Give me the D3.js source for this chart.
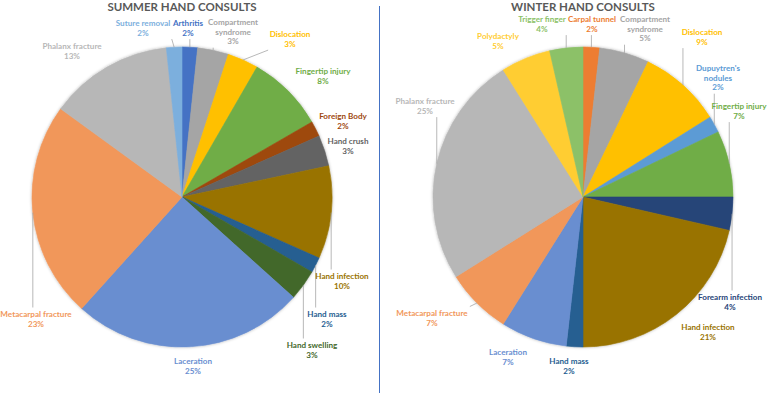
<!DOCTYPE html>
<html lang="en">
<head>
    <meta charset="UTF-8">
    <title>Hand Consults</title>
    <script src="https://d3js.org/d3.v7.min.js"></script>
    <style>
        body {
            margin: 0;
            background: #fff;
            font-family: 'Lato', sans-serif;
            overflow: hidden;
        }
    </style>
</head>
<body>
    <script>
        // counts per category (percent labels are computed from these)
        const summerCategories = ["Arthritis", "Compartment syndrome", "Dislocation", "Fingertip injury", "Foreign Body",
            "Hand crush", "Hand infection", "Hand mass", "Hand swelling", "Laceration", "Metacarpal fracture",
            "Phalanx fracture", "Suture removal"];
        const summerCounts = [1, 2, 2, 5, 1, 2, 6, 1, 2, 15, 14, 8, 1];

        const winterCategories = ["Carpal tunnel", "Compartment syndrome", "Dislocation", "Dupuytren's nodules",
            "Fingertip injury", "Forearm infection", "Hand infection", "Hand mass", "Laceration",
            "Metacarpal fracture", "Phalanx fracture", "Polydactyly", "Trigger finger"];
        const winterCounts = [1, 3, 5, 1, 4, 2, 12, 1, 4, 4, 14, 3, 2];

        const titles = ["SUMMER HAND CONSULTS", "WINTER HAND CONSULTS"];

        // Excel-like palette by category
        const colorOf = {
            "Arthritis": "#4472C4",
            "Carpal tunnel": "#ED7D31",
            "Compartment syndrome": "#A5A5A5",
            "Dislocation": "#FFC000",
            "Dupuytren's nodules": "#5B9BD5",
            "Fingertip injury": "#70AD47",
            "Forearm infection": "#264478",
            "Foreign Body": "#9E480E",
            "Hand crush": "#636363",
            "Hand infection": "#997300",
            "Hand mass": "#255E91",
            "Hand swelling": "#43682B",
            "Laceration": "#698ED0",
            "Metacarpal fracture": "#F1975A",
            "Phalanx fracture": "#B7B7B7",
            "Polydactyly": "#FFCD33",
            "Suture removal": "#7CAFDD",
            "Trigger finger": "#8CC168"
        };
        const twoLine = new Set(["Compartment syndrome", "Dupuytren's nodules"]);

        // label placement, offsets from the pie centre; lead = draw a leader line
        const summerLabels = {
            "Suture removal": [-39, -174, 1], "Arthritis": [6, -174, 1], "Compartment syndrome": [51, -175, 1],
            "Dislocation": [108, -163, 1], "Fingertip injury": [141, -126, 0], "Foreign Body": [161, -81, 0],
            "Hand crush": [166, -56, 0], "Hand infection": [160, 79, 1], "Hand mass": [145, 117, 1],
            "Hand swelling": [130, 148, 1], "Laceration": [11, 164, 0], "Metacarpal fracture": [-146, 117, 1],
            "Phalanx fracture": [-110, -151, 0]
        };
        const winterLabels = {
            "Carpal tunnel": [9, -178, 1], "Compartment syndrome": [62, -178, 1], "Dislocation": [119, -165, 1],
            "Dupuytren's nodules": [135, -129, 1], "Fingertip injury": [156, -91, 1], "Forearm infection": [147, 100, 1],
            "Hand infection": [125, 130, 0], "Hand mass": [-14, 164, 0], "Laceration": [-75, 155, 0],
            "Metacarpal fracture": [-151, 116, 1], "Phalanx fracture": [-158, -96, 1], "Polydactyly": [-85, -161, 0],
            "Trigger finger": [-41, -178, 1]
        };

        const width = 767;
        const height = 393;
        const radius = 150;

        const svg = d3.select("body")
            .append("svg")
            .attr("width", width)
            .attr("height", height);

        const defs = svg.append("defs");
        const shadow = defs.append("filter").attr("id", "shadow")
            .attr("x", "-10%").attr("y", "-10%").attr("width", "120%").attr("height", "120%");
        shadow.append("feDropShadow")
            .attr("dx", 0).attr("dy", 0).attr("stdDeviation", 1.5)
            .attr("flood-color", "#000").attr("flood-opacity", 0.3);

        // divider between the two charts
        svg.append("line")
            .attr("x1", 379.5).attr("x2", 379.5)
            .attr("y1", 6).attr("y2", height)
            .attr("stroke", "#4472C4")
            .attr("stroke-width", 1);

        const pie = d3.pie().sort(null).value(d => d.count);
        const arc = d3.arc().innerRadius(0).outerRadius(radius);

        function drawPie(cx, cy, title, categories, counts, labels) {
            const data = categories.map((c, i) => ({ name: c, count: counts[i] }));
            const total = d3.sum(counts);
            const g = svg.append("g").attr("transform", `translate(${cx},${cy})`);

            svg.append("text")
                .attr("x", cx)
                .attr("y", 10.5)
                .attr("text-anchor", "middle")
                .style("font-size", "11.5px")
                .style("font-weight", "700")
                .style("fill", "#595959")
                .text(title);

            g.append("g")
                .attr("filter", "url(#shadow)")
                .selectAll("path")
                .data(pie(data))
                .enter()
                .append("path")
                .attr("d", arc)
                .attr("fill", d => colorOf[d.data.name])
                .attr("stroke", d => colorOf[d.data.name])
                .attr("stroke-width", 0.6)
                .attr("stroke-linejoin", "round");

            const lineG = g.append("g");
            const labelG = g.append("g");

            pie(data).forEach(d => {
                const name = d.data.name;
                const [lx, ly, lead] = labels[name];
                const col = colorOf[name];
                const lines = twoLine.has(name) ? name.split(" ") : [name];
                lines.push(Math.round(d.data.count / total * 100) + "%");

                const t = labelG.append("text")
                    .attr("text-anchor", "middle")
                    .style("font-size", "8.1px")
                    .style("font-weight", "700")
                    .style("fill", col);
                lines.forEach((s, i) => {
                    t.append("tspan")
                        .attr("x", lx)
                        .attr("y", ly + 3 + i * 9.6)
                        .text(s);
                });

                if (lead) {
                    const mid = (d.startAngle + d.endAngle) / 2;
                    const sx = Math.sin(mid) * radius;
                    const sy = -Math.cos(mid) * radius;
                    const b = t.node().getBBox();
                    const pad = 1.5;
                    const ex = Math.max(b.x - pad, Math.min(sx, b.x + b.width + pad));
                    const ey = Math.max(b.y - pad, Math.min(sy, b.y + b.height + pad));
                    lineG.append("path")
                        .attr("d", `M${sx},${sy}L${ex},${ey}`)
                        .attr("fill", "none")
                        .attr("stroke", "#A6A6A6")
                        .attr("stroke-width", 0.8);
                }
            });
        }

        drawPie(182, 197, titles[0], summerCategories, summerCounts, summerLabels);
        drawPie(583, 197, titles[1], winterCategories, winterCounts, winterLabels);
    </script>
</body>
</html>
